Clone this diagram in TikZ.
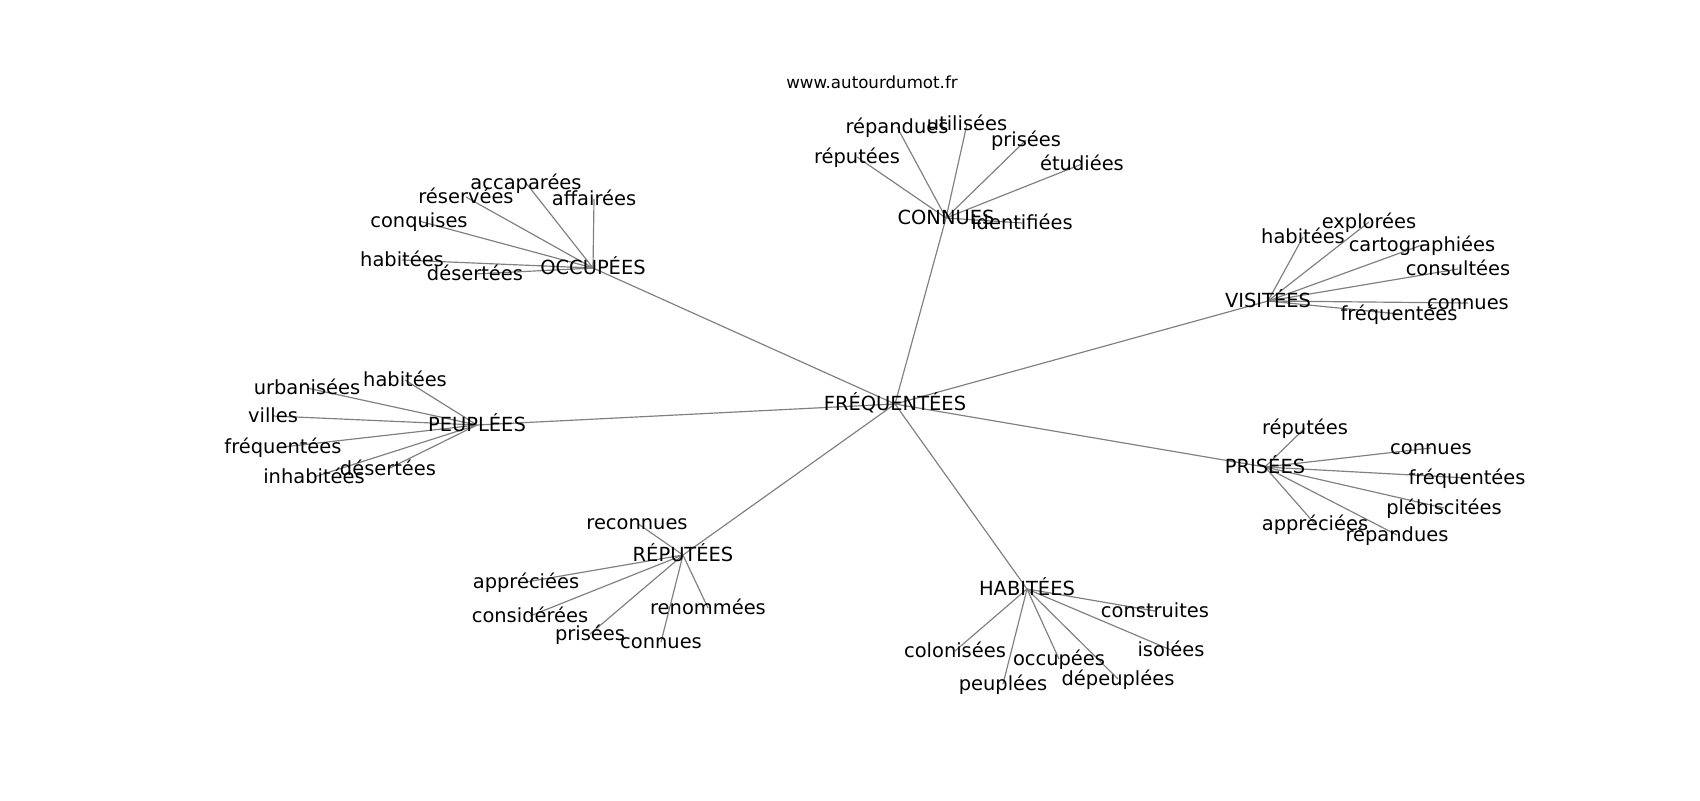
\documentclass[tikz,border=0pt]{standalone}
\usepackage{fontspec}
\setmainfont{DejaVu Sans}
\usetikzlibrary{backgrounds}
\definecolor{edgegray}{RGB}{128,128,128}
\tikzset{
  lbl/.style={inner sep=0pt, text height=12.8pt, text depth=3.4pt, font=\fontsize{14}{16}\selectfont, anchor=center},
  ttl/.style={inner sep=0pt, font=\fontsize{12}{14}\selectfont, anchor=center},
  edge/.style={draw=edgegray, line width=0.85pt}
}
\begin{document}
\begin{tikzpicture}[x=0.72pt, y=-0.72pt]
\useasboundingbox (0,0) rectangle (1700,800);
\node[ttl] (title) at (872,82) {www.autourdumot.fr};
% centre and hubs
\node[lbl] (f) at (895,404) {FRÉQUENTÉES};
\node[lbl] (cn) at (946,218) {CONNUES};
\node[lbl] (oc) at (593,268) {OCCUPÉES};
\node[lbl] (vi) at (1268,301) {VISITÉES};
\node[lbl] (pe) at (477,425) {PEUPLÉES};
\node[lbl] (pr) at (1265,467) {PRISÉES};
\node[lbl] (re) at (683,555) {RÉPUTÉES};
\node[lbl] (ha) at (1027,589) {HABITÉES};
% CONNUES leaves
\node[lbl] (cn1) at (897,127) {répandues};
\node[lbl] (cn2) at (967,124) {utilisées};
\node[lbl] (cn3) at (1026,140) {prisées};
\node[lbl] (cn4) at (857,157) {réputées};
\node[lbl] (cn5) at (1082,164) {étudiées};
\node[lbl] (cn6) at (1022,223) {identifiées};
% OCCUPÉES leaves
\node[lbl] (oc1) at (526,183) {accaparées};
\node[lbl] (oc2) at (466,197) {réservées};
\node[lbl] (oc3) at (594,199) {affairées};
\node[lbl] (oc4) at (419,221) {conquises};
\node[lbl] (oc5) at (402,260) {habitées};
\node[lbl] (oc6) at (475,274) {désertées};
% VISITÉES leaves
\node[lbl] (vi1) at (1303,237) {habitées};
\node[lbl] (vi2) at (1369,222) {explorées};
\node[lbl] (vi3) at (1422,245) {cartographiées};
\node[lbl] (vi4) at (1458,269) {consultées};
\node[lbl] (vi5) at (1468,303) {connues};
\node[lbl] (vi6) at (1399,314) {fréquentées};
% PEUPLÉES leaves
\node[lbl] (pe1) at (307,388) {urbanisées};
\node[lbl] (pe2) at (405,380) {habitées};
\node[lbl] (pe3) at (273,416) {villes};
\node[lbl] (pe4) at (283,447) {fréquentées};
\node[lbl] (pe5) at (314,477) {inhabitées};
\node[lbl] (pe6) at (388,469) {désertées};
% PRISÉES leaves
\node[lbl] (pr1) at (1305,428) {réputées};
\node[lbl] (pr2) at (1431,448) {connues};
\node[lbl] (pr3) at (1467,478) {fréquentées};
\node[lbl] (pr4) at (1444,508) {plébiscitées};
\node[lbl] (pr5) at (1315,524) {appréciées};
\node[lbl] (pr6) at (1397,535) {répandues};
% RÉPUTÉES leaves
\node[lbl] (re1) at (637,523) {reconnues};
\node[lbl] (re2) at (526,582) {appréciées};
\node[lbl] (re3) at (530,616) {considérées};
\node[lbl] (re4) at (590,634) {prisées};
\node[lbl] (re5) at (661,642) {connues};
\node[lbl] (re6) at (708,608) {renommées};
% HABITÉES leaves
\node[lbl] (ha1) at (1155,611) {construites};
\node[lbl] (ha2) at (1171,650) {isolées};
\node[lbl] (ha3) at (955,651) {colonisées};
\node[lbl] (ha4) at (1059,659) {occupées};
\node[lbl] (ha5) at (1003,684) {peuplées};
\node[lbl] (ha6) at (1118,679) {dépeuplées};
\begin{pgfonlayer}{background}
  \foreach \h in {cn,oc,vi,pe,pr,re,ha} {
    \draw[edge] (f.center) -- (\h.center);
    \foreach \i in {1,...,6} {
      \draw[edge] (\h.center) -- (\h\i.center);
    }
  }
\end{pgfonlayer}
\end{tikzpicture}
\end{document}
